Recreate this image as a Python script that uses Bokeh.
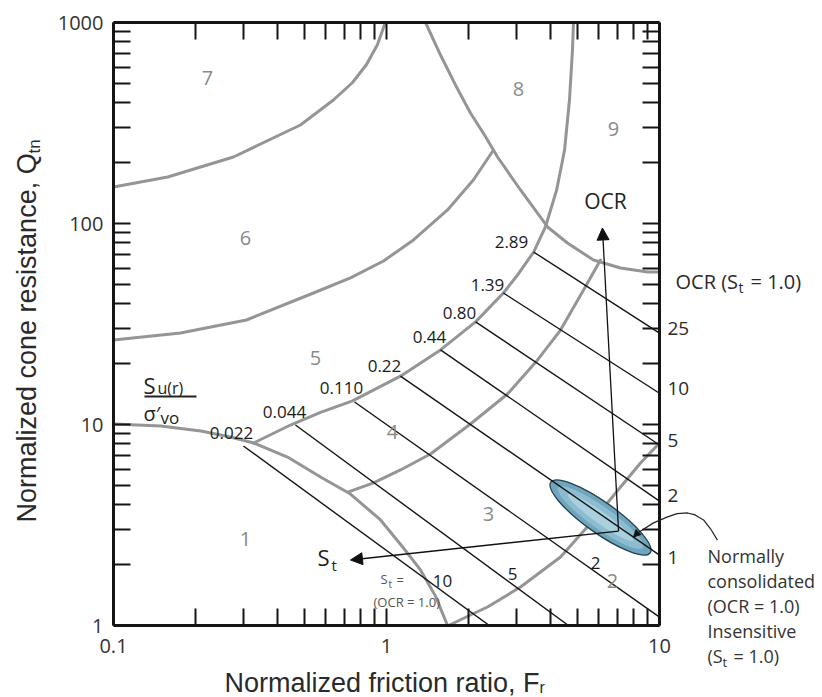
import math
from bokeh.plotting import figure
from bokeh.models import FixedTicker, PrintfTickFormatter, LogAxis, Arrow, NormalHead, Range1d
from bokeh.core.properties import value
from bokeh.embed import file_html
from bokeh.resources import INLINE

# ---------------- data (Fr in %, Qtn) ----------------
x_ticks = [0.1, 1, 10]
y_ticks = [1, 10, 100, 1000]

# zone boundaries (gray curves)
zone1_fr = [0.1, 0.149, 0.209, 0.268, 0.326, 0.434, 0.573, 0.738, 0.951, 1.154, 1.332, 1.512, 1.673]
zone1_qt = [10.06, 9.83, 9.28, 8.67, 8.09, 6.89, 5.48, 4.51, 3.35, 2.43, 1.89, 1.40, 1.0]

zone2_fr = [1.687, 2.03, 2.344, 3.097, 4.34, 5.73, 7.20, 8.52, 10.0]
zone2_qt = [1.0, 1.128, 1.236, 1.554, 2.19, 3.35, 4.89, 6.43, 8.09]

zone34_fr = [0.726, 0.896, 1.125, 1.449, 2.03, 2.775, 3.57, 4.34, 5.27, 6.08]
zone34_qt = [4.62, 5.12, 5.94, 7.13, 10.06, 14.18, 20.9, 29.5, 46.7, 65.8]

zone45_fr = [0.326, 0.445, 0.573, 0.751, 1.125, 1.577, 2.12, 2.68, 3.04, 3.46, 3.82, 4.20, 4.49, 4.68, 4.80, 4.84]
zone45_qt = [8.09, 9.94, 11.5, 13.1, 17.4, 23.5, 32.4, 45.1, 56.1, 72.1, 96.1, 146.8, 232, 411.6, 730, 1000]

zone56_fr = [0.1, 0.176, 0.307, 0.540, 0.738, 0.975, 1.256, 1.673, 2.08, 2.466]
zone56_qt = [26.3, 28.5, 33.1, 45.1, 53.6, 65.1, 82.8, 116.8, 164.6, 232]

zone67_fr = [0.1, 0.158, 0.275, 0.484, 0.639, 0.751, 0.845, 0.927, 0.99]
zone67_qt = [152, 170.3, 214.2, 309, 411.6, 503, 618, 777, 1000]

zone89_fr = [1.39, 1.577, 1.789, 2.03, 2.286, 2.551, 3.097, 3.89, 4.60, 5.73, 7.20, 9.04, 10.0]
zone89_qt = [1000, 689, 489, 354.6, 275.6, 214.2, 146.8, 96.1, 80.0, 65.8, 60.1, 57.4, 57.4]

# Su(r)/sigma'vo contour lines
su_ratio = ["0.022", "0.044", "0.110", "0.22", "0.44", "0.80", "1.39", "2.89"]
su_start_fr = [0.299, 0.464, 0.764, 1.125, 1.577, 2.12, 2.68, 3.46]
su_start_qt = [7.82, 9.94, 12.94, 17.4, 23.5, 32.4, 45.1, 72.1]
su_end_fr = [2.38, 4.64, 10, 10, 10, 10, 10, 10]
su_end_qt = [1.0, 1.0, 1.10, 2.24, 4.16, 7.91, 14.3, 28.5]

ocr_values = ["25", "10", "5", "2", "1"]
st_values = ["10", "5", "2"]
zone_names = ["1", "2", "3", "4", "5", "6", "7", "8", "9"]

# normally consolidated ellipse and arrows
nc_fr, nc_qt = 6.08, 3.445
arrow_tail = (7.08, 2.95)
ocr_tip = (6.18, 95.0)
st_tip = (0.738, 2.118)
callout_fr = [16.3, 15.4, 14.5, 13.5, 12.67, 11.6, 10.7, 9.51, 8.31]
callout_qt = [2.66, 3.02, 3.35, 3.55, 3.63, 3.6, 3.47, 3.24, 2.885]
callout_tip = (8.03, 2.756)

# ---------------- figure ----------------
L, R, T, B = 113, 659, 22, 625
W, H = 822, 697
p = figure(width=W, height=H, x_axis_type="log", y_axis_type="log",
           x_range=Range1d(0.1, 10), y_range=Range1d(1, 1000),
           output_backend="svg", toolbar_location=None, title=None,
           min_border_left=L, min_border_right=W - R, min_border_top=T, min_border_bottom=H - B)
p.xgrid.visible = False
p.ygrid.visible = False
p.outline_line_color = None
p.background_fill_color = "white"
p.border_fill_color = "white"

xt = FixedTicker(ticks=x_ticks, minor_ticks=[m * d for d in x_ticks[:-1] for m in range(2, 10)])
yt = FixedTicker(ticks=y_ticks, minor_ticks=[m * d for d in y_ticks[:-1] for m in range(2, 10)])


def style_axis(ax, labels, standoff=8):
    ax.axis_line_width = 3
    ax.axis_line_color = "#151515"
    ax.major_tick_in = 17
    ax.major_tick_out = 0
    ax.minor_tick_in = 17
    ax.minor_tick_out = 0
    ax.major_tick_line_width = 2
    ax.minor_tick_line_width = 2
    ax.major_tick_line_color = "#151515"
    ax.minor_tick_line_color = "#151515"
    ax.formatter = PrintfTickFormatter(format="%g")
    ax.major_label_text_font = "Open Sans"
    if labels:
        ax.major_label_text_font_size = "20px"
        ax.major_label_text_color = "#333333"
        ax.major_label_standoff = standoff
    else:
        ax.major_label_text_font_size = "2px"
        ax.major_label_text_color = None
        ax.major_label_standoff = 0


p.xaxis[0].ticker = xt
p.yaxis[0].ticker = yt
style_axis(p.xaxis[0], True, 13)
style_axis(p.yaxis[0], True, 10)
top = LogAxis(ticker=xt)
style_axis(top, False)
p.add_layout(top, "above")
right = LogAxis(ticker=yt)
style_axis(right, False)
p.add_layout(right, "right")

gray = "#959595"
for fx, qy in [(zone1_fr, zone1_qt), (zone2_fr, zone2_qt), (zone34_fr, zone34_qt),
               (zone45_fr, zone45_qt), (zone56_fr, zone56_qt), (zone67_fr, zone67_qt),
               (zone89_fr, zone89_qt)]:
    p.line(fx, qy, line_color=gray, line_width=3, line_join="round", line_cap="round")

# ellipse (layered to suggest the gradient)
p.ellipse(x=[nc_fr], y=[nc_qt], width=122, height=31, angle=-0.618,
          width_units="screen", height_units="screen",
          fill_color="#6fa6be", line_color="#23414f", line_width=1.3)
p.ellipse(x=[nc_fr], y=[nc_qt], width=104, height=22, angle=-0.618,
          width_units="screen", height_units="screen",
          fill_color="#8dbbcf", line_color=None)
p.ellipse(x=[nc_fr], y=[nc_qt], width=80, height=12, angle=-0.618,
          width_units="screen", height_units="screen",
          fill_color="#aacfdf", line_color=None)

p.segment(x0=su_start_fr, y0=su_start_qt, x1=su_end_fr, y1=su_end_qt,
          line_color="#141414", line_width=1.4)

for tip in (ocr_tip, st_tip):
    p.add_layout(Arrow(end=NormalHead(size=12, fill_color="#111111", line_color="#111111"),
                       x_start=arrow_tail[0], y_start=arrow_tail[1], x_end=tip[0], y_end=tip[1],
                       line_color="#111111", line_width=1.3))

p.line(callout_fr, callout_qt, line_color="#222222", line_width=1.2, level="overlay",
       line_join="round")
p.add_layout(Arrow(end=NormalHead(size=7, fill_color="#111111", line_color="#111111"),
                   x_start=callout_fr[-1], y_start=callout_qt[-1],
                   x_end=callout_tip[0], y_end=callout_tip[1],
                   line_color="#222222", line_width=1.2))


# ---------------- text (positioned in page pixels, vertical middle) ----------------
def at(px, py):
    return 10 ** ((px - L) / 273.0 - 1), 10 ** ((B - py) / 201.0)


def txt(px, py, s, size, color="#222222", align="left", font="Open Sans", angle=0.0):
    x, y = at(px, py)
    p.text(x=[x], y=[y], text=[s], text_font=value(font), text_font_size=value(f"{size}px"),
           text_color=color, text_align=align, text_baseline="middle", angle=angle,
           level="overlay")


# zone numbers
zone_pos = [(245, 538), (612, 580), (488, 513), (392, 431), (315, 357),
            (245, 237), (207, 77), (518, 88), (613, 128)]
for (px, py), s in zip(zone_pos, zone_names):
    txt(px, py, s, 20, "#8a8a8a", "center")

# Su labels
su_pos = [(231, 432), (284, 411), (341, 387), (384, 365), (429, 336), (459, 312), (487, 284), (511, 241)]
for (px, py), s in zip(su_pos, su_ratio):
    txt(px, py, s, 17, "#1a1a1a", "center")

# St labels on lines
for (px, py), s in zip([(442, 580), (512, 573), (595, 562)], st_values):
    txt(px, py, s, 17, "#1a1a1a", "center")

# OCR values on the right
for (px, py), s in zip([(667, 328), (667, 388), (667, 440), (667, 495), (667, 557)], ocr_values):
    txt(px, py, s, 19, "#2a2a2a", "left")

# OCR (St = 1.0)
txt(675, 281, "OCR (S", 20, "#2a2a2a")
txt(738, 287, "t", 14, "#2a2a2a")
txt(750, 281, "= 1.0)", 20, "#2a2a2a")

txt(605, 200, "OCR", 21, "#222222", "center")

# St arrow label
txt(317, 556, "S", 22, "#222222")
txt(331, 564, "t", 15, "#222222")
txt(380, 578, "S", 13, "#555555")
txt(388, 583, "t", 10, "#555555")
txt(396, 579, "=", 13, "#555555")
txt(373, 601, "(OCR = 1.0)", 13, "#555555")

# Su(r)/sigma'vo
txt(143, 384, "S", 22, "#222222")
txt(157, 387, "u(r)", 16, "#222222")
bx0, by0 = at(144, 396)
bx1, by1 = at(196, 396)
p.segment(x0=[bx0], y0=[by0], x1=[bx1], y1=[by1], line_color="#222222", line_width=2)
txt(143, 413, "σ′", 20, "#222222")
txt(160, 417, "vo", 17, "#222222")

# right-hand note
note_lines = ["Normally", "consolidated", "(OCR = 1.0)", "Insensitive"]
for i, s in enumerate(note_lines):
    txt(707, 555 + 25 * i, s, 18, "#333333", "left")
txt(707, 655, "(S", 18, "#333333")
txt(722, 661, "t", 13, "#333333")
txt(733, 655, "= 1.0)", 18, "#333333")

# axis titles
txt(224, 682, "Normalized friction ratio, F", 27, "#2a2a2a", font="Liberation Sans")
txt(539, 687, "r", 16, "#2a2a2a", font="Liberation Sans")
txt(26, 522, "Normalized cone resistance, Q", 27, "#2a2a2a", font="Liberation Sans", angle=math.pi / 2)
txt(34, 153, "tn", 17, "#2a2a2a", font="Liberation Sans", angle=math.pi / 2)

open("out.html", "w").write(file_html(p, INLINE))
